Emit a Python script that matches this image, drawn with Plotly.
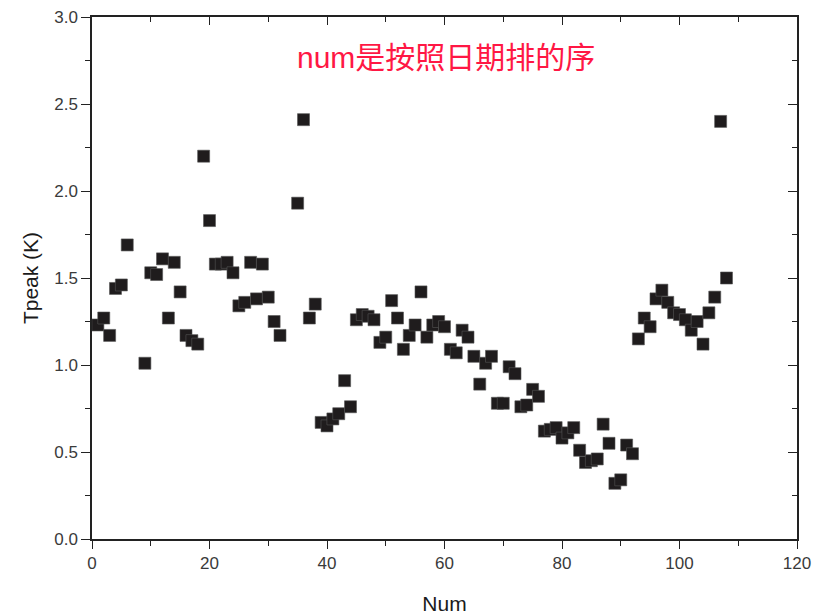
import plotly.graph_objects as go

# Observation index (ordered by date) and peak brightness temperature
num = [1, 2, 3, 4, 5, 6, 9, 10, 11, 12, 13, 14, 15, 16, 17, 18, 19, 20,
       21, 22, 23, 24, 25, 26, 27, 28, 29, 30, 31, 32, 35, 36, 37, 38,
       39, 40, 41, 42, 43, 44, 45, 46, 47, 48, 49, 50, 51, 52, 53, 54,
       55, 56, 57, 58, 59, 60, 61, 62, 63, 64, 65, 66, 67, 68, 69, 70,
       71, 72, 73, 74, 75, 76, 77, 78, 79, 80, 81, 82, 83, 84, 85, 86,
       87, 88, 89, 90, 91, 92, 93, 94, 95, 96, 97, 98, 99, 100, 101, 102,
       103, 104, 105, 106, 107, 108]
tpeak = [1.23, 1.27, 1.17, 1.44, 1.46, 1.69, 1.01, 1.53, 1.52, 1.61, 1.27, 1.59, 1.42, 1.17, 1.14, 1.12, 2.20, 1.83,
         1.58, 1.58, 1.59, 1.53, 1.34, 1.36, 1.59, 1.38, 1.58, 1.39, 1.25, 1.17, 1.93, 2.41, 1.27, 1.35,
         0.67, 0.65, 0.69, 0.72, 0.91, 0.76, 1.26, 1.29, 1.28, 1.26, 1.13, 1.16, 1.37, 1.27, 1.09, 1.17,
         1.23, 1.42, 1.16, 1.23, 1.25, 1.22, 1.09, 1.07, 1.20, 1.16, 1.05, 0.89, 1.01, 1.05, 0.78, 0.78,
         0.99, 0.95, 0.76, 0.77, 0.86, 0.82, 0.62, 0.63, 0.64, 0.58, 0.61, 0.64, 0.51, 0.44, 0.45, 0.46,
         0.66, 0.55, 0.32, 0.34, 0.54, 0.49, 1.15, 1.27, 1.22, 1.38, 1.43, 1.36, 1.30, 1.29, 1.26, 1.20,
         1.25, 1.12, 1.30, 1.39, 2.40, 1.50]

x_range = [0, 120]
y_range = [0, 3.0]
note_text = "num是按照日期排的序"

FONT = "Liberation Sans, Arial, Noto Sans CJK SC, sans-serif"
AX = "#222222"

fig = go.Figure()
fig.add_trace(go.Scatter(
    x=num, y=tpeak, mode="markers",
    marker=dict(symbol="square", size=12, color="#1f1c1d",
                line=dict(width=0.6, color="#555555")),
    showlegend=False, hoverinfo="x+y",
))
# empty trace so the top/right mirror axes are laid out
fig.add_trace(go.Scatter(x=[], y=[], xaxis="x2", yaxis="y2", showlegend=False))

common = dict(showline=True, linecolor=AX, linewidth=1.5, showgrid=False,
              zeroline=False, tickcolor=AX, tickwidth=1.3, automargin=False)

fig.update_layout(
    width=813, height=616,
    margin=dict(l=92, r=16, t=17, b=77),
    paper_bgcolor="white", plot_bgcolor="white",
    font=dict(family=FONT, color="#333333"),
    xaxis=dict(range=x_range, dtick=20, ticks="outside", ticklen=8,
               minor=dict(ticks="outside", dtick=10, ticklen=5, tickcolor=AX, tickwidth=1.3),
               tickfont=dict(size=17, color="#3a3a3a"),
               title=dict(text="Num", font=dict(size=21, color="#1a1a1a"), standoff=24),
               **common),
    yaxis=dict(range=y_range, dtick=0.5, tickformat=".1f", ticks="outside", ticklen=9,
               minor=dict(ticks="outside", dtick=0.25, ticklen=5, tickcolor=AX, tickwidth=1.3),
               tickfont=dict(size=17, color="#3a3a3a"),
               title=dict(text="Tpeak (K)", font=dict(size=21, color="#1a1a1a"), standoff=10),
               **common),
    xaxis2=dict(range=x_range, overlaying="x", side="top", anchor="y2", dtick=20,
                ticks="inside", ticklen=8, showticklabels=False,
                minor=dict(ticks="inside", dtick=10, ticklen=5, tickcolor=AX, tickwidth=1.3),
                **common),
    yaxis2=dict(range=y_range, overlaying="y", side="right", anchor="x2", dtick=0.5,
                ticks="inside", ticklen=9, showticklabels=False,
                minor=dict(ticks="inside", dtick=0.25, ticklen=5, tickcolor=AX, tickwidth=1.3),
                **common),
    annotations=[dict(x=60.2, y=2.77, xref="x", yref="y", text=note_text,
                      showarrow=False,
                      font=dict(size=30, color="#ff1744",
                                family="Liberation Sans, Arial, Noto Sans CJK SC, sans-serif"))],
)

fig.write_html("out.html")
